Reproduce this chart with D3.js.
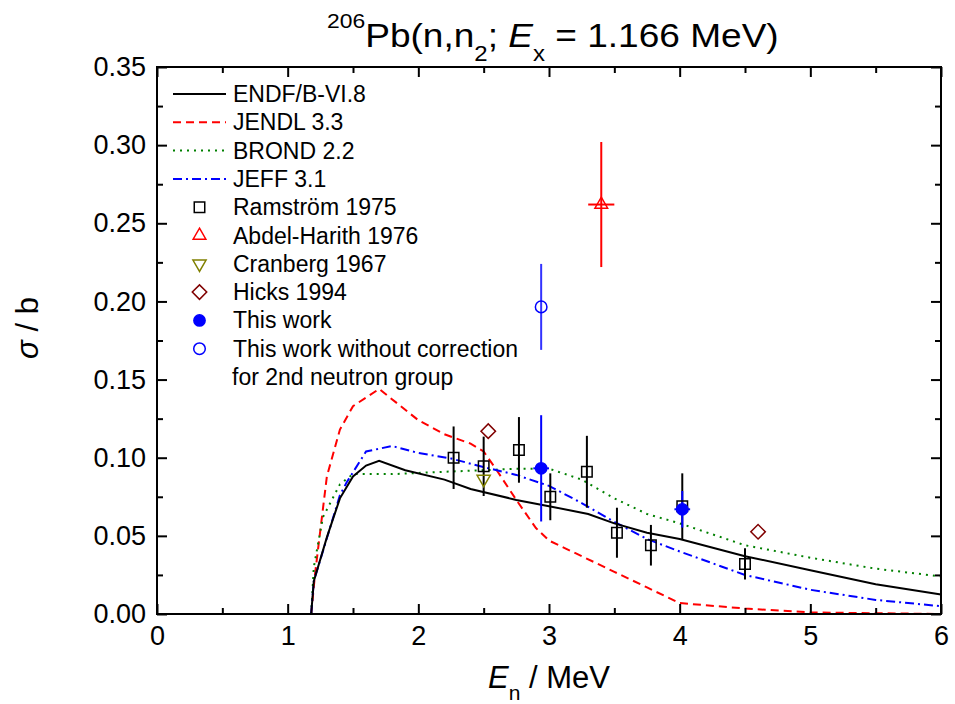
<!DOCTYPE html>
<html>
<head>
<meta charset="utf-8">
<script src="https://cdn.jsdelivr.net/npm/d3@7"></script>
<style>
body { margin: 0; background: #fff; }
svg { font-family: "Liberation Sans", Arial, sans-serif; }
</style>
</head>
<body>
<svg id="chart" width="955" height="704"></svg>
<script>
// evaluated data curves (energy in MeV, cross section in b)
var endfE  = [1.18, 1.2, 1.3, 1.4, 1.5, 1.6, 1.7, 1.9, 2.2, 2.4, 2.75, 3.0, 3.3, 3.5, 3.75, 4.0, 4.5, 5.0, 5.5, 6.0];
var endfS  = [0, 0.021, 0.049, 0.074, 0.088, 0.095, 0.098, 0.092, 0.086, 0.080, 0.073, 0.069, 0.064, 0.058, 0.052, 0.048, 0.037, 0.028, 0.019, 0.0125];

var jendlE = [1.18, 1.21, 1.3, 1.4, 1.5, 1.7, 2.0, 2.2, 2.4, 2.5, 2.6, 2.75, 2.9, 3.0, 3.25, 3.5, 3.75, 4.0, 4.5, 5.0, 6.0];
var jendlS = [0, 0.026, 0.088, 0.118, 0.133, 0.144, 0.124, 0.115, 0.109, 0.104, 0.092, 0.073, 0.055, 0.047, 0.037, 0.027, 0.017, 0.007, 0.0035, 0.001, 0.0];

var brondE = [1.18, 1.2, 1.27, 1.4, 1.5, 1.8, 2.2, 2.5, 2.75, 3.0, 3.25, 3.5, 3.75, 4.0, 4.5, 5.0, 5.5, 6.0];
var brondS = [0, 0.03, 0.062, 0.083, 0.0895, 0.0895, 0.091, 0.092, 0.093, 0.093, 0.086, 0.074, 0.064, 0.058, 0.044, 0.036, 0.029, 0.024];

var jeffE  = [1.18, 1.2, 1.4, 1.45, 1.6, 1.8, 2.0, 2.25, 2.5, 2.75, 3.0, 3.25, 3.5, 3.75, 4.0, 4.5, 5.0, 5.5, 6.0];
var jeffS  = [0, 0.021, 0.076, 0.084, 0.104, 0.1075, 0.103, 0.0995, 0.094, 0.089, 0.082, 0.071, 0.059, 0.048, 0.040, 0.025, 0.0155, 0.009, 0.005];

// experimental points
var ramE   = [2.27, 2.50, 2.77, 3.01, 3.29, 3.52, 3.78, 4.02, 4.50];
var ramS   = [0.100, 0.0945, 0.105, 0.075, 0.091, 0.052, 0.044, 0.069, 0.032];
var ramErr = [0.020, 0.019, 0.021, 0.015, 0.023, 0.016, 0.013, 0.021, 0.010];

var abdelE = [3.40];
var abdelS = [0.262];
var abdelErr = [0.040];
var abdelDE = [0.10];

var cranE  = [2.50];
var cranS  = [0.0863];

var hicksE = [2.535, 4.60];
var hicksS = [0.117, 0.0526];

var workE   = [2.94, 4.02];
var workS   = [0.0932, 0.067];
var workErr = [0.034, 0.0117];
var workDE  = [0.06, 0.06];

var rawE   = [2.94];
var rawS   = [0.1965];
var rawErr = [0.0275];

var xTicks = [0, 1, 2, 3, 4, 5, 6];
var yTicks = [0, 0.05, 0.10, 0.15, 0.20, 0.25, 0.30, 0.35];

var legendNames = ["ENDF/B-VI.8", "JENDL 3.3", "BROND 2.2", "JEFF 3.1", "Ramstr\u00f6m 1975",
                   "Abdel-Harith 1976", "Cranberg 1967", "Hicks 1994", "This work",
                   "This work without correction"];

var svg = d3.select("#chart");

var x = d3.scaleLinear().domain([0, 6]).range([157, 941]);
var y = d3.scaleLinear().domain([0, 0.35]).range([614, 67]);

var plot = svg.append("g");

// ticks, all pointing inward
function styleAxis(g) {
    g.select(".domain").remove();
    g.selectAll(".tick line").attr("stroke", "#000").attr("stroke-width", 2);
    g.selectAll("text").attr("fill", "#000").attr("font-size", 27)
        .attr("font-family", "'Liberation Sans', Arial, sans-serif");
}

var minorX = d3.range(0.5, 6, 1);
var minorY = d3.range(0.025, 0.35, 0.05);

svg.append("g").attr("transform", "translate(0,614)")
    .call(d3.axisBottom(x).tickValues(xTicks).tickFormat(d3.format("d")).tickSize(-10).tickPadding(12))
    .call(styleAxis);
svg.append("g").attr("transform", "translate(0,614)")
    .call(d3.axisBottom(x).tickValues(minorX).tickFormat("").tickSize(-6))
    .call(styleAxis);
svg.append("g").attr("transform", "translate(0,67)")
    .call(d3.axisTop(x).tickValues(xTicks).tickFormat("").tickSize(-10))
    .call(styleAxis);
svg.append("g").attr("transform", "translate(0,67)")
    .call(d3.axisTop(x).tickValues(minorX).tickFormat("").tickSize(-6))
    .call(styleAxis);

svg.append("g").attr("transform", "translate(157,0)")
    .call(d3.axisLeft(y).tickValues(yTicks).tickFormat(d3.format(".2f")).tickSize(-10).tickPadding(11))
    .call(styleAxis);
svg.append("g").attr("transform", "translate(157,0)")
    .call(d3.axisLeft(y).tickValues(minorY).tickFormat("").tickSize(-6))
    .call(styleAxis);
svg.append("g").attr("transform", "translate(941,0)")
    .call(d3.axisRight(y).tickValues(yTicks).tickFormat("").tickSize(-10))
    .call(styleAxis);
svg.append("g").attr("transform", "translate(941,0)")
    .call(d3.axisRight(y).tickValues(minorY).tickFormat("").tickSize(-6))
    .call(styleAxis);

// curves
var line = d3.line().x(function(d) { return x(d[0]); }).y(function(d) { return y(d[1]); });

function drawCurve(E, S, colour, dash) {
    plot.append("path")
        .attr("d", line(d3.zip(E, S)))
        .attr("fill", "none")
        .attr("stroke", colour)
        .attr("stroke-width", 2)
        .attr("stroke-dasharray", dash);
}

drawCurve(jendlE, jendlS, "#ff0000", "8,5");
drawCurve(brondE, brondS, "#008000", "2,5");
drawCurve(jeffE, jeffS, "#0000ff", "9,4,2,4");
drawCurve(endfE, endfS, "#000000", null);

// error bars
function drawErrors(E, S, err, dE, colour) {
    for (var i = 0; i < E.length; i++) {
        plot.append("line")
            .attr("x1", x(E[i])).attr("x2", x(E[i]))
            .attr("y1", y(S[i] - err[i])).attr("y2", y(S[i] + err[i]))
            .attr("stroke", colour).attr("stroke-width", 2);
        if (dE) {
            plot.append("line")
                .attr("x1", x(E[i] - dE[i])).attr("x2", x(E[i] + dE[i]))
                .attr("y1", y(S[i])).attr("y2", y(S[i]))
                .attr("stroke", colour).attr("stroke-width", 2);
        }
    }
}

drawErrors(ramE, ramS, ramErr, null, "#000");
drawErrors(abdelE, abdelS, abdelErr, abdelDE, "#ff0000");
drawErrors(workE, workS, workErr, workDE, "#0000ff");
drawErrors(rawE, rawS, rawErr, null, "#3333ff");

// marker shapes
var markers = {
    square:  { sym: d3.symbolSquare, size: 110, rot: 0, stroke: "#000", fill: "none" },
    up:      { sym: d3.symbolTriangle, size: 70, rot: 0, stroke: "#ff0000", fill: "none" },
    down:    { sym: d3.symbolTriangle, size: 75, rot: 180, stroke: "#808000", fill: "none" },
    diamond: { sym: d3.symbolSquare, size: 105, rot: 45, stroke: "#800000", fill: "none" },
    filled:  { sym: d3.symbolCircle, size: 100, rot: 0, stroke: "#0000ff", fill: "#0000ff" },
    open:    { sym: d3.symbolCircle, size: 105, rot: 0, stroke: "#0000ff", fill: "none" }
};

function drawMarker(g, type, cx, cy) {
    var m = markers[type];
    g.append("path")
        .attr("d", d3.symbol().type(m.sym).size(m.size)())
        .attr("transform", "translate(" + cx + "," + cy + ") rotate(" + m.rot + ")")
        .attr("fill", m.fill)
        .attr("stroke", m.stroke)
        .attr("stroke-width", 1.5);
}

function drawPoints(E, S, type) {
    for (var i = 0; i < E.length; i++) drawMarker(plot, type, x(E[i]), y(S[i]));
}

drawPoints(ramE, ramS, "square");
drawPoints(abdelE, abdelS, "up");
drawPoints(cranE, cranS, "down");
drawPoints(hicksE, hicksS, "diamond");
drawPoints(workE, workS, "filled");
drawPoints(rawE, rawS, "open");

// frame
svg.append("rect")
    .attr("x", 157).attr("y", 67)
    .attr("width", 941 - 157).attr("height", 614 - 67)
    .attr("fill", "none").attr("stroke", "#000").attr("stroke-width", 2);

// legend
var legend = svg.append("g");
var rowY = function(i) { return 94 + i * 28.3; };
var lineStyles = [["#000000", null], ["#ff0000", "8,5"], ["#008000", "2,5"], ["#0000ff", "9,4,2,4"]];
var markerOrder = ["square", "up", "down", "diamond", "filled", "open"];

legendNames.forEach(function(name, i) {
    if (i < 4) {
        legend.append("line")
            .attr("x1", 173).attr("x2", 226)
            .attr("y1", rowY(i)).attr("y2", rowY(i))
            .attr("stroke", lineStyles[i][0]).attr("stroke-width", 2)
            .attr("stroke-dasharray", lineStyles[i][1]);
    } else {
        drawMarker(legend, markerOrder[i - 4], 199.5, rowY(i));
    }
    legend.append("text")
        .attr("x", 233).attr("y", rowY(i) + 8)
        .attr("font-size", 23)
        .text(name);
});
legend.append("text")
    .attr("x", 232).attr("y", rowY(10) + 8)
    .attr("font-size", 23)
    .text("for 2nd neutron group");

// title (the original lettering is a little wider than Liberation Sans)
var title = svg.append("text")
    .attr("transform", "translate(327,46.5) scale(1.09,1)")
    .attr("font-size", 34);
title.append("tspan").attr("font-size", 21).attr("dy", -19).text("206");
title.append("tspan").attr("dy", 19).text("Pb(n,n");
title.append("tspan").attr("font-size", 22).attr("dy", 14).text("2");
title.append("tspan").attr("dy", -14).text("; ");
title.append("tspan").attr("font-style", "italic").text("E");
title.append("tspan").attr("font-size", 22).attr("dy", 14).text("x");
title.append("tspan").attr("dy", -14).text(" = 1.166 MeV)");

// axis titles
var xl = svg.append("text").attr("x", 549).attr("y", 688).attr("text-anchor", "middle").attr("font-size", 31);
xl.append("tspan").attr("font-style", "italic").text("E");
xl.append("tspan").attr("font-size", 21).attr("dy", 12).text("n");
xl.append("tspan").attr("dy", -12).text(" / MeV");

var yl = svg.append("text")
    .attr("transform", "translate(38,328) rotate(-90)")
    .attr("text-anchor", "middle").attr("font-size", 31);
yl.append("tspan").attr("font-style", "italic").text("\u03c3");
yl.append("tspan").text(" / b");
</script>
</body>
</html>
